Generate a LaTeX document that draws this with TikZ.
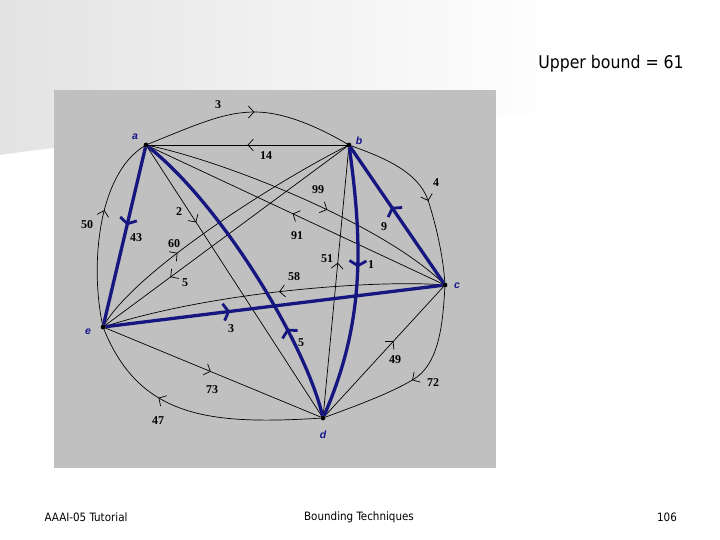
\documentclass[tikz,border=0pt]{standalone}
\usepackage{fontspec}
\setmainfont{Liberation Serif}
\newfontfamily\slidefont{DejaVu Sans Condensed}
\newfontfamily\vfont{Liberation Sans}
\usetikzlibrary{arrows.meta,decorations.markings}
\definecolor{panelgray}{RGB}{192,192,192}
\definecolor{tourblue}{RGB}{22,22,128}
\definecolor{vblue}{RGB}{20,20,140}
\begin{document}
\begin{tikzpicture}[x=1pt,y=-1pt,
  dot/.style={circle,fill=black,inner sep=0pt,minimum size=4.5pt},
  vname/.style={font=\vfont\bfseries\itshape\fontsize{10.5}{10.5}\selectfont,text=vblue,inner sep=0pt},
  wlab/.style={font=\bfseries\fontsize{12}{12}\selectfont,inner sep=0pt},
  slide/.style={font=\slidefont\fontsize{#1}{#1}\selectfont,inner sep=0pt},
  plainarc/.style={draw=black,line width=0.7pt},
  tourarc/.style={draw=tourblue,line width=3.3pt},
  tarr/.style={postaction={decorate,decoration={markings,mark=at position #1 with {\arrow[color=black]{Straight Barb[length=5.5pt,width=12pt,line width=0.7pt]}}}}},
  barr/.style={postaction={decorate,decoration={markings,mark=at position #1 with {\arrow[color=tourblue]{Straight Barb[length=5pt,width=17pt,line width=2.8pt]}}}}},
]
\useasboundingbox (0,0) rectangle (720,540);
\fill[white] (0,0) rectangle (720,540);
\shade[left color=black!11,right color=white] (0,0) -- (560,0) -- (560,112) .. controls (300,125) and (100,140) .. (0,155) -- cycle;
\fill[panelgray] (54,90) rectangle (496,468);

% vertices
\node[dot] (a) at (146,145) {};
\node[dot] (b) at (349,145) {};
\node[dot] (c) at (445,285) {};
\node[dot] (d) at (323,418) {};
\node[dot] (e) at (103,327) {};

% thin arcs
\draw[plainarc,tarr=0.53] (a) .. controls (200,123) and (225,112) .. (255,112) .. controls (285,112) and (320,128) .. (b);
\draw[plainarc,tarr=0.5] (b) -- (a);
\draw[plainarc,tarr=0.54] (b) .. controls (385,158) and (418,172) .. (428,200) .. controls (436,225) and (443,255) .. (c);
\draw[plainarc,tarr=0.6] (e) .. controls (90,265) and (98,175) .. (a);
\draw[plainarc,tarr=0.28] (a) -- (d);
\draw[plainarc,tarr=0.57] (d) -- (b);
\draw[plainarc,tarr=0.48] (c) .. controls (380,280) and (220,290) .. (e);
\draw[plainarc,tarr=0.34] (e) .. controls (135,272) and (270,185) .. (b);
\draw[plainarc,tarr=0.73] (b) -- (e);
\draw[plainarc,tarr=0.58] (a) .. controls (220,160) and (380,222) .. (c);
\draw[plainarc,tarr=0.51] (c) -- (a);
\draw[plainarc,tarr=0.58] (d) -- (c);
\draw[plainarc,tarr=0.52] (c) .. controls (443,320) and (440,360) .. (417,377) .. controls (395,392) and (350,408) .. (d);
\draw[plainarc,tarr=0.49] (e) -- (d);
\draw[plainarc,tarr=0.65] (d) .. controls (210,425) and (140,418) .. (e);

% tour arcs
\draw[tourarc,barr=0.56] (c) -- (b);
\draw[tourarc,barr=0.44] (a) -- (e);
\draw[tourarc,barr=0.29] (d) .. controls (306,345) and (222,205) .. (a);
\draw[tourarc,barr=0.44] (b) .. controls (362,240) and (366,320) .. (d);
\draw[tourarc,barr=0.37] (e) -- (c);

% redraw dots on top
\foreach \v in {a,b,c,d,e} \fill (\v) circle (2.3pt);

% vertex names
\node[vname] (na) at (135,137) {a};
\node[vname] (nb) at (359,141) {b};
\node[vname] (nc) at (457,286) {c};
\node[vname] (nd) at (323,435) {d};
\node[vname] (ne) at (88,332) {e};

% weights
\node[wlab] (w1) at (218,105) {3};
\node[wlab] (w2) at (266,156) {14};
\node[wlab] (w3) at (436,183) {4};
\node[wlab] (w4) at (384,227) {9};
\node[wlab] (w5) at (87,225) {50};
\node[wlab] (w6) at (136,238) {43};
\node[wlab] (w7) at (179,212) {2};
\node[wlab] (w8) at (174,244) {60};
\node[wlab] (w9) at (185,283) {5};
\node[wlab] (w10) at (318,190) {99};
\node[wlab] (w11) at (297,236) {91};
\node[wlab] (w12) at (327,259) {51};
\node[wlab] (w13) at (371,265) {1};
\node[wlab] (w14) at (294,277) {58};
\node[wlab] (w15) at (231,329) {3};
\node[wlab] (w16) at (301,343) {5};
\node[wlab] (w17) at (395,360) {49};
\node[wlab] (w18) at (433,383) {72};
\node[wlab] (w19) at (212,390) {73};
\node[wlab] (w20) at (158,421) {47};

% slide text
\node[slide=17.5] (title) at (611,64) {Upper bound = 61};
\node[slide=11.5] (f1) at (86,517) {AAAI-05 Tutorial};
\node[slide=11.5] (f2) at (359,517) {Bounding Techniques};
\node[slide=11.5] (f3) at (667,517) {106};
\end{tikzpicture}
\end{document}
